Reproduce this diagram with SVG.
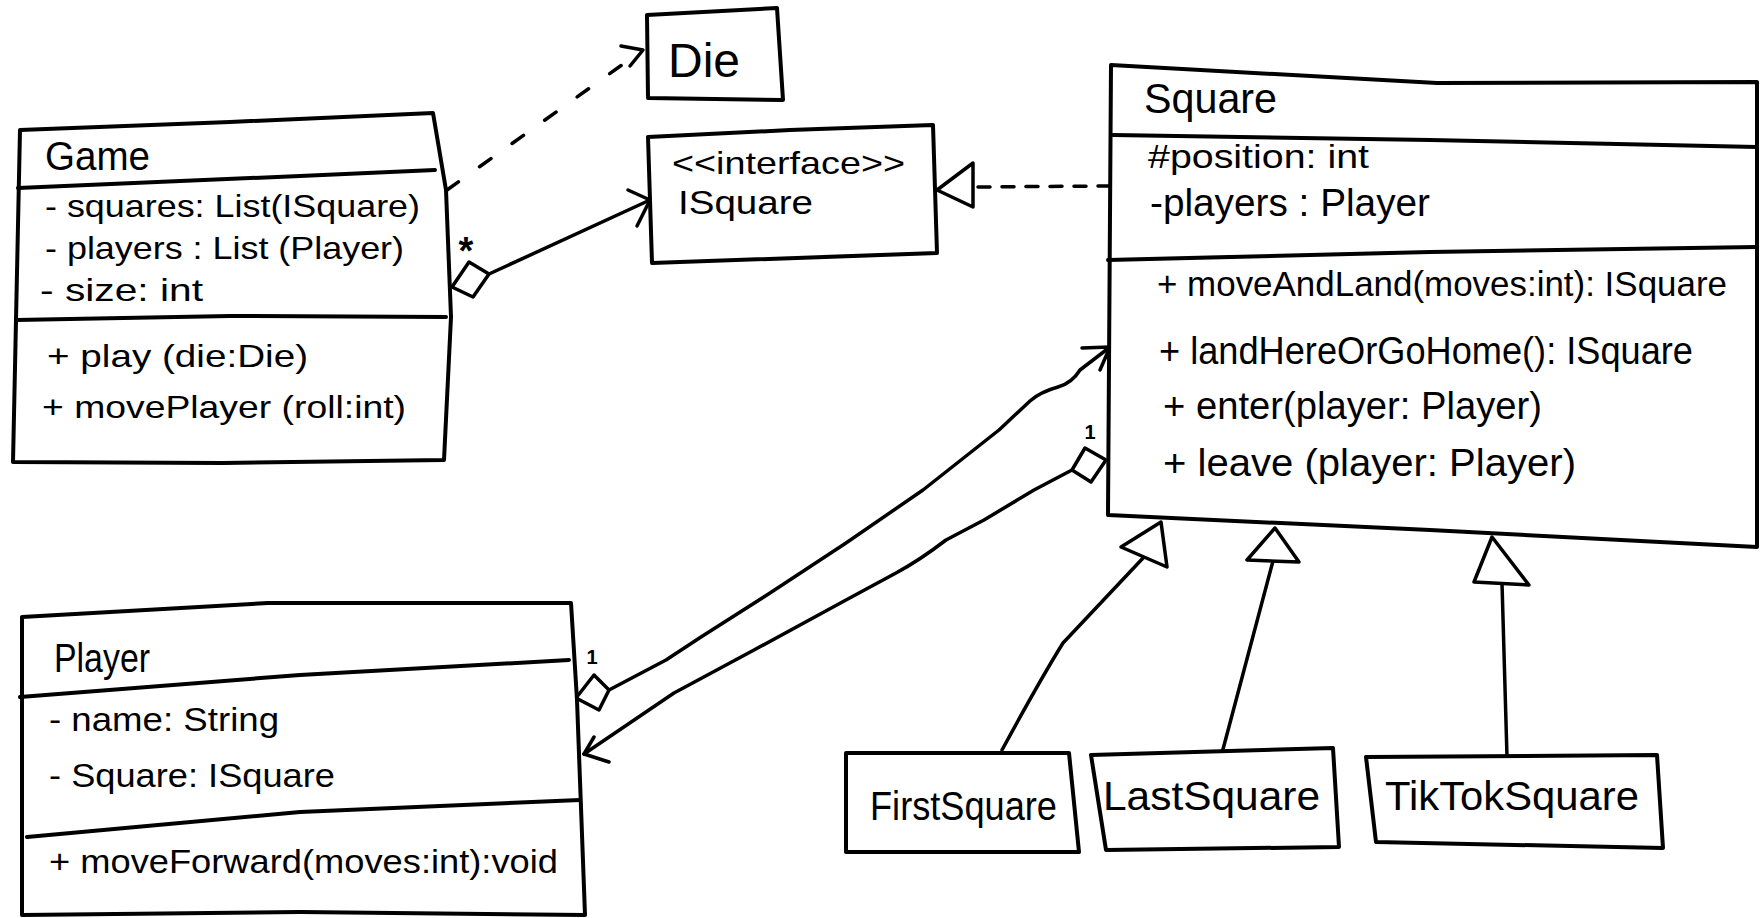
<svg xmlns="http://www.w3.org/2000/svg" width="1760" height="918" viewBox="0 0 1760 918">
<style>
.box{fill:#fff;stroke:#000;stroke-width:4;stroke-linejoin:round;stroke-linecap:round}
.div{fill:none;stroke:#000;stroke-width:4;stroke-linecap:round}
.ln{fill:none;stroke:#000;stroke-width:3.5;stroke-linecap:round;stroke-linejoin:round}
.dash{fill:none;stroke:#000;stroke-width:3.5;stroke-linecap:round}
.hd{fill:#fff;stroke:#000;stroke-width:3.5;stroke-linejoin:round}
text{font-family:"Liberation Sans",Arial,sans-serif;fill:#000}
.t{font-size:40px}
.a{font-size:32px}
.m{font-size:38px}
.p{font-size:34px}
.mult{font-size:20px;font-weight:bold}
</style>
<rect width="1760" height="918" fill="#fff"/>

<g id="connectors">
  <!-- Game -> Die dependency -->
  <path class="dash" d="M447 190 L640 52" stroke-dasharray="14 26"/>
  <path class="ln" d="M621 46 L643 50 L630 66"/>
  <!-- Game -> ISquare aggregation -->
  <path class="ln" d="M489 274 L650 200"/>
  <path class="ln" d="M628 190 L650 200 L637 226"/>
  <path class="hd" d="M452 287 L469 262 L489 274 L473 297 Z"/>
  <text x="466" y="264" text-anchor="middle" style="font-size:38px;font-weight:bold">*</text>
  <!-- Square -> ISquare realization -->
  <path class="dash" d="M1110 186 L975 187" stroke-dasharray="12 12"/>
  <path class="hd" d="M937 190 L973 163 L973 207 Z"/>
  <!-- Player -> Square -->
  <path class="ln" d="M609 690 L666 660 L701 637 L770 593 L846 543 L923 490 L999 430 L1030 401 Q1040 392 1058 387 Q1072 383 1080 370 L1110 347"/>
  <path class="ln" d="M1082 348 L1110 347 L1100 370"/>
  <path class="hd" d="M576 698 L594 675 L609 690 L599 710 Z"/>
  <text class="mult" x="592" y="664" text-anchor="middle">1</text>
  <!-- Square -> Player -->
  <path class="ln" d="M1072 470 L1034 490 L984 520 L946 540 Q920 560 896 573 L846 600 L754 650 L674 693 L584 754"/>
  <path class="ln" d="M594 737 L584 754 L609 762"/>
  <path class="hd" d="M1072 470 L1085 448 L1106 460 L1091 482 Z"/>
  <text class="mult" x="1090" y="439" text-anchor="middle">1</text>
  <!-- Generalizations -->
  <path class="ln" d="M1002 750 Q1040 680 1063 643 L1144 557"/>
  <path class="hd" d="M1161 522 L1121 547 L1167 567 Z"/>
  <path class="ln" d="M1222 753 L1273 561"/>
  <path class="hd" d="M1275 528 L1247 560 L1299 562 Z"/>
  <path class="ln" d="M1507 757 L1502 583"/>
  <path class="hd" d="M1492 537 L1474 582 L1529 585 Z"/>
</g>

<g id="node-game">
  <path class="box" d="M20 130 L230 122 L433 113 L446 190 L451 317 L444 460 L223 463 L13 462 L16 320 Z"/>
  <path class="div" d="M18 188 L134 183 L300 176 L435 170"/>
  <path class="div" d="M16 320 L230 316 L446 317"/>
  <text class="t" x="45" y="170" textLength="105" lengthAdjust="spacingAndGlyphs">Game</text>
  <text class="a" x="45" y="217" textLength="375" lengthAdjust="spacingAndGlyphs">- squares: List(ISquare)</text>
  <text class="a" x="45" y="259" textLength="359" lengthAdjust="spacingAndGlyphs">- players : List (Player)</text>
  <text class="a" x="40" y="301" textLength="163" lengthAdjust="spacingAndGlyphs">- size: int</text>
  <text class="a" x="47" y="367" textLength="261" lengthAdjust="spacingAndGlyphs">+ play (die:Die)</text>
  <text class="a" x="42" y="418" textLength="364" lengthAdjust="spacingAndGlyphs">+ movePlayer (roll:int)</text>
</g>

<g id="node-die">
  <path class="box" d="M647 15 L777 8 L783 100 L648 98 Z"/>
  <text x="668" y="77" style="font-size:48px" textLength="72" lengthAdjust="spacingAndGlyphs">Die</text>
</g>

<g id="node-isquare">
  <path class="box" d="M648 137 L790 130 L933 125 L937 253 L652 263 Z"/>
  <text x="672" y="174" style="font-size:32px" textLength="233" lengthAdjust="spacingAndGlyphs">&lt;&lt;interface&gt;&gt;</text>
  <text x="678" y="214" style="font-size:34px" textLength="135" lengthAdjust="spacingAndGlyphs">ISquare</text>
</g>

<g id="node-square">
  <path class="box" d="M1111 65 L1437 83 L1757 82 L1757 547 L1430 530 L1108 515 Z"/>
  <path class="div" d="M1113 135 L1430 140 L1757 147"/>
  <path class="div" d="M1108 260 L1430 252 L1757 247"/>
  <text x="1144" y="113" style="font-size:42px" textLength="133" lengthAdjust="spacingAndGlyphs">Square</text>
  <text x="1148" y="168" style="font-size:34px" textLength="221" lengthAdjust="spacingAndGlyphs">#position: int</text>
  <text class="m" x="1150" y="216" textLength="280" lengthAdjust="spacingAndGlyphs">-players : Player</text>
  <text x="1157" y="296" style="font-size:35px" textLength="570" lengthAdjust="spacingAndGlyphs">+ moveAndLand(moves:int): ISquare</text>
  <text class="m" x="1159" y="364" textLength="534" lengthAdjust="spacingAndGlyphs">+ landHereOrGoHome(): ISquare</text>
  <text class="m" x="1163" y="419" textLength="379" lengthAdjust="spacingAndGlyphs">+ enter(player: Player)</text>
  <text class="m" x="1163" y="476" textLength="413" lengthAdjust="spacingAndGlyphs">+ leave (player: Player)</text>
</g>

<g id="node-player">
  <path class="box" d="M22 617 L268 603 L571 603 L577 700 L585 915 L300 912 L22 915 Z"/>
  <path class="div" d="M20 697 L300 675 L569 660"/>
  <path class="div" d="M27 837 L300 812 L580 800"/>
  <text class="t" x="54" y="672" textLength="96" lengthAdjust="spacingAndGlyphs">Player</text>
  <text class="p" x="49" y="731" textLength="230" lengthAdjust="spacingAndGlyphs">- name: String</text>
  <text class="p" x="49" y="787" textLength="286" lengthAdjust="spacingAndGlyphs">- Square: ISquare</text>
  <text class="p" x="49" y="873" textLength="509" lengthAdjust="spacingAndGlyphs">+ moveForward(moves:int):void</text>
</g>

<g id="node-firstsquare">
  <path class="box" d="M846 753 L1069 753 L1079 852 L846 852 Z"/>
  <text class="t" x="870" y="820" textLength="187" lengthAdjust="spacingAndGlyphs">FirstSquare</text>
</g>

<g id="node-lastsquare">
  <path class="box" d="M1091 755 L1333 748 L1339 847 L1106 850 Z"/>
  <text class="t" x="1103" y="810" textLength="217" lengthAdjust="spacingAndGlyphs">LastSquare</text>
</g>

<g id="node-tiktoksquare">
  <path class="box" d="M1366 757 L1657 755 L1663 848 L1376 842 Z"/>
  <text class="t" x="1385" y="810" textLength="254" lengthAdjust="spacingAndGlyphs">TikTokSquare</text>
</g>
</svg>
